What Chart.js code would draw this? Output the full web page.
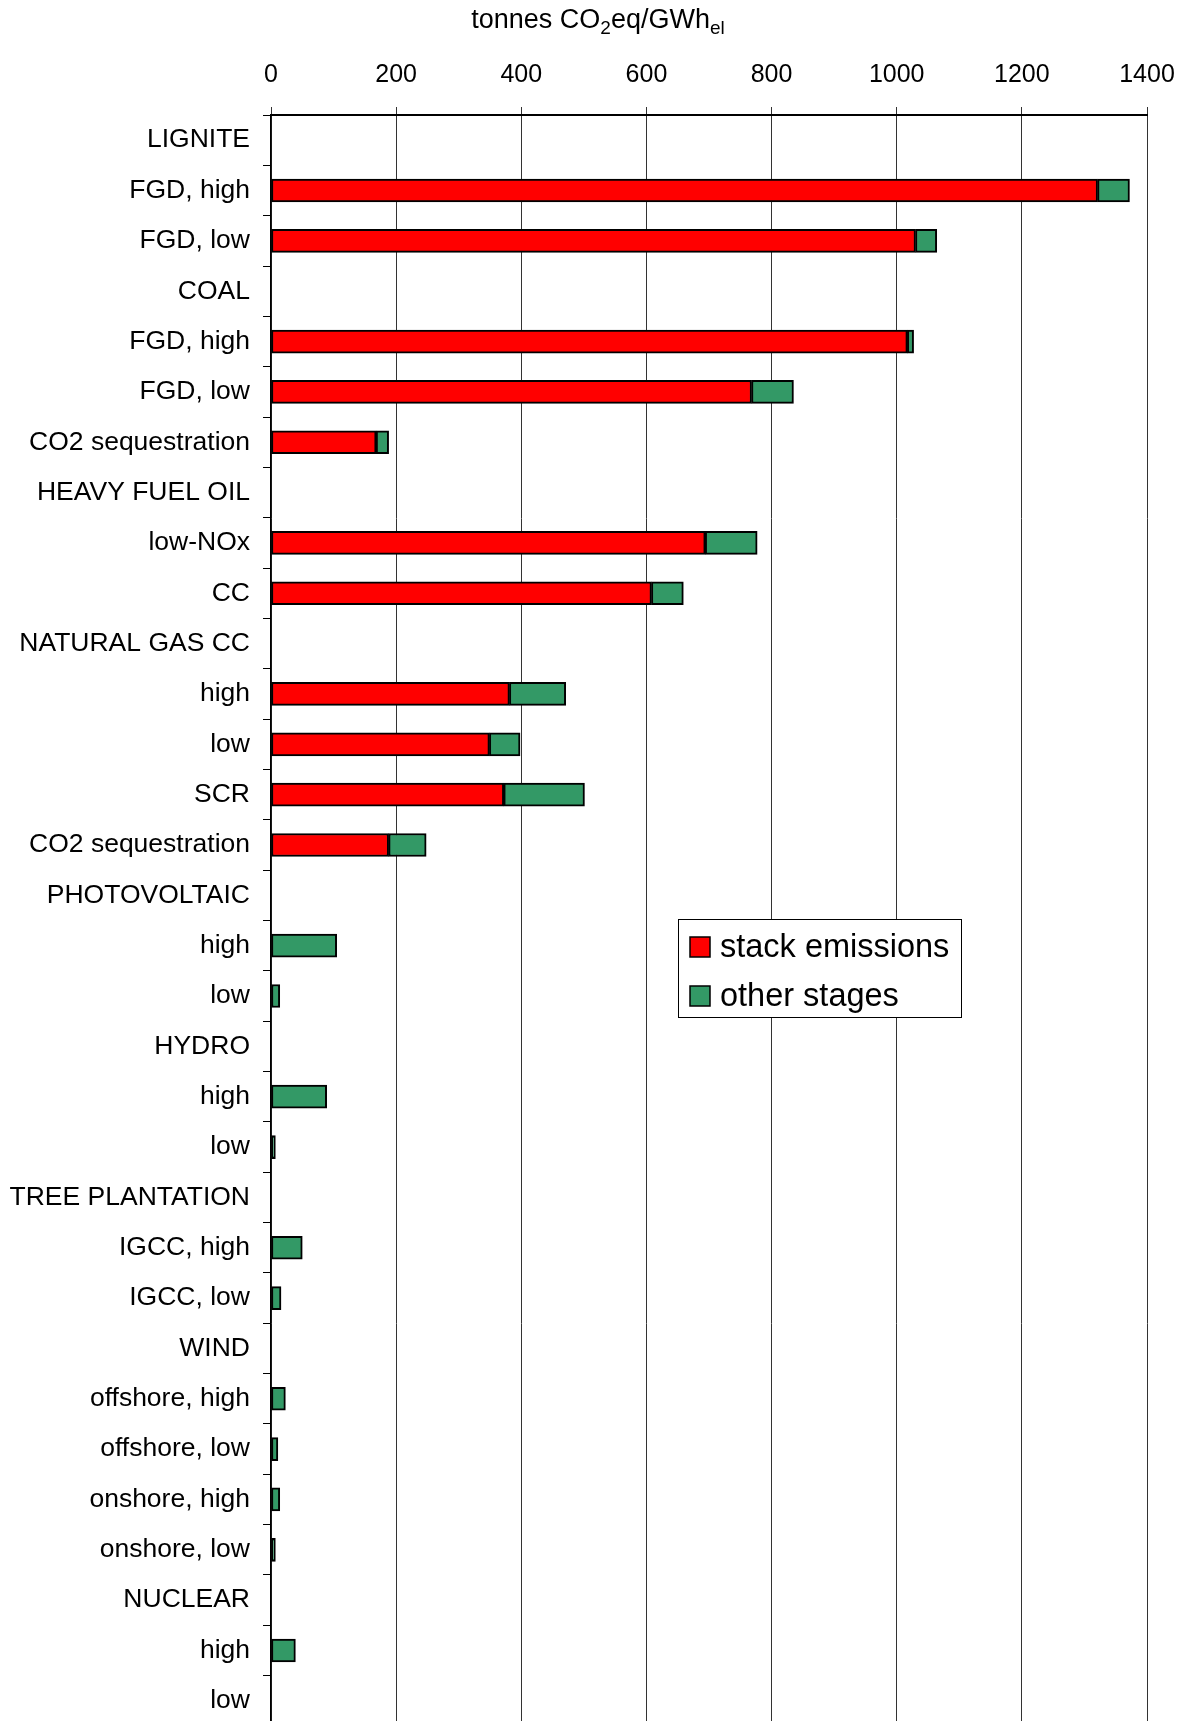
<!DOCTYPE html>
<html>
<head>
<meta charset="utf-8">
<script src="https://cdn.jsdelivr.net/npm/chart.js@4.4.1/dist/chart.umd.min.js"></script>
<style>
  html, body { margin: 0; padding: 0; background: #fff; overflow: hidden; }
  #wrap { width: 1189px; height: 1726px; }
</style>
</head>
<body>
<div id="wrap"><canvas id="chart" width="1189" height="1726"></canvas></div>
<script>
// categories, top to bottom
const categories = [
  'LIGNITE', 'FGD, high', 'FGD, low',
  'COAL', 'FGD, high', 'FGD, low', 'CO2 sequestration',
  'HEAVY FUEL OIL', 'low-NOx', 'CC',
  'NATURAL GAS CC', 'high', 'low', 'SCR', 'CO2 sequestration',
  'PHOTOVOLTAIC', 'high', 'low',
  'HYDRO', 'high', 'low',
  'TREE PLANTATION', 'IGCC, high', 'IGCC, low',
  'WIND', 'offshore, high', 'offshore, low', 'onshore, high', 'onshore, low',
  'NUCLEAR', 'high', 'low'
];

// tonnes CO2eq/GWhel
const stackEmissions = [
  null, 1321, 1030,
  null, 1017, 768, 168,
  null, 694, 608,
  null, 381, 349, 372, 188,
  null, null, null,
  null, null, null,
  null, null, null,
  null, null, null, null, null,
  null, null, null
];

const otherStages = [
  null, 51, 34,
  null, 10, 67, 20,
  null, 83, 51,
  null, 90, 49, 129, 60,
  null, 105, 14,
  null, 89, 7,
  null, 50, 16,
  null, 23, 11, 14, 7,
  null, 39, null
];

const xTicks = [0, 200, 400, 600, 800, 1000, 1200, 1400];

const FONT = '"Liberation Sans", Arial, sans-serif';
Chart.defaults.color = '#000';
Chart.defaults.font.family = FONT;

// axis title with subscripts
const unitTitle = {
  id: 'unitTitle',
  afterDraw(chart) {
    const ctx = chart.ctx;
    const parts = [['tonnes CO', 0], ['2', 1], ['eq/GWh', 0], ['el', 1]];
    const big = '27px ' + FONT, small = '19px ' + FONT;
    let w = 0;
    parts.forEach(p => { ctx.font = p[1] ? small : big; w += ctx.measureText(p[0]).width; });
    let x = 598 - w / 2;
    const y = 28;
    ctx.save();
    ctx.fillStyle = '#000';
    ctx.textAlign = 'left';
    ctx.textBaseline = 'alphabetic';
    parts.forEach(p => {
      ctx.font = p[1] ? small : big;
      ctx.fillText(p[0], x, p[1] ? y + 6 : y);
      x += ctx.measureText(p[0]).width;
    });
    ctx.restore();
  }
};

// boxed legend inside the plot
const boxLegend = {
  id: 'boxLegend',
  afterDraw(chart) {
    const ctx = chart.ctx;
    const left = 678, top = 919, w = 283, h = 98;
    ctx.save();
    ctx.fillStyle = '#fff';
    ctx.fillRect(left, top, w, h);
    ctx.strokeStyle = '#000';
    ctx.lineWidth = 1;
    ctx.strokeRect(left + 0.5, top + 0.5, w, h);
    ctx.font = '32.5px ' + FONT;
    ctx.textBaseline = 'middle';
    chart.data.datasets.forEach((ds, i) => {
      const cy = top + 28 + i * 49;
      ctx.fillStyle = ds.backgroundColor;
      ctx.fillRect(left + 12, cy - 10, 20, 20);
      ctx.strokeStyle = '#000';
      ctx.lineWidth = 1.5;
      ctx.strokeRect(left + 12, cy - 10, 20, 20);
      ctx.fillStyle = '#000';
      ctx.fillText(ds.label, left + 42, cy + 1);
    });
    ctx.restore();
  }
};

new Chart(document.getElementById('chart'), {
  type: 'bar',
  data: {
    labels: categories,
    datasets: [
      {
        label: 'stack emissions',
        data: stackEmissions,
        backgroundColor: '#FF0000',
        borderColor: '#000',
        borderWidth: 2,
        borderSkipped: false,
        barThickness: 23
      },
      {
        label: 'other stages',
        data: otherStages,
        backgroundColor: '#339966',
        borderColor: '#000',
        borderWidth: 2,
        borderSkipped: false,
        barThickness: 23
      }
    ]
  },
  options: {
    indexAxis: 'y',
    responsive: false,
    animation: false,
    layout: { padding: { top: 55, right: 42, bottom: 0, left: 0 } },
    plugins: {
      legend: { display: false },
      tooltip: { enabled: false }
    },
    scales: {
      x: {
        position: 'top',
        stacked: true,
        min: 0,
        max: 1400,
        afterBuildTicks: s => { s.ticks = xTicks.map(v => ({ value: v })); },
        afterFit: s => { s.height = 60; s.paddingLeft = 0; s.paddingRight = 0; },
        ticks: { font: { size: 25 }, padding: 17, color: '#000', callback: v => String(v) },
        grid: { color: '#333', lineWidth: 1, tickLength: 8 },
        border: { color: '#000', width: 2 }
      },
      y: {
        stacked: true,
        afterFit: s => { s.width = 271; s.paddingTop = 0; s.paddingBottom = 0; },
        ticks: { font: { size: 26.5 }, padding: 13, color: '#000', autoSkip: false },
        grid: { drawOnChartArea: false, color: '#000', tickLength: 8 },
        border: { color: '#000', width: 1.5 }
      }
    }
  },
  plugins: [unitTitle, boxLegend]
});
</script>
</body>
</html>
